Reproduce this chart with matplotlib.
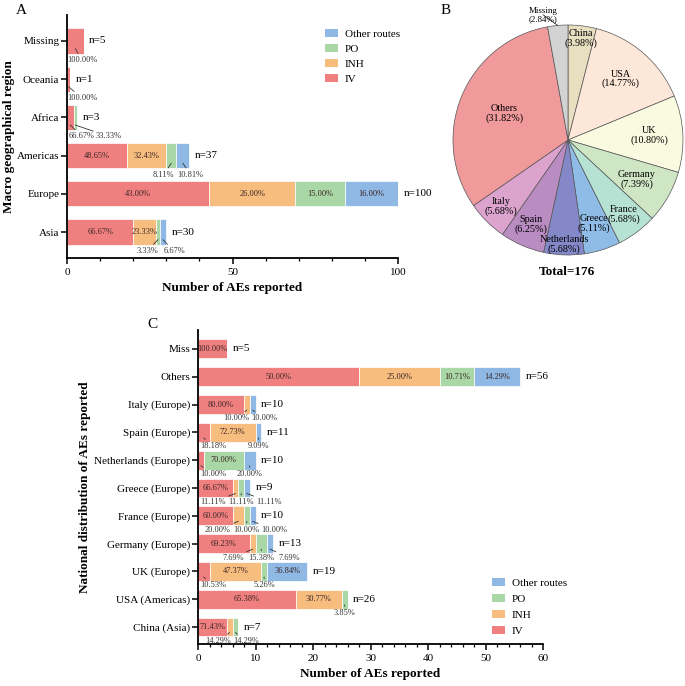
import numpy as np
import matplotlib
matplotlib.use("Agg")
import matplotlib.pyplot as plt
from matplotlib.patches import Patch

plt.rcParams["font.family"] = ["Liberation Serif", "DejaVu Serif"]

# Route order (stacking order, left to right)
routes = ["IV", "INH", "PO", "Other routes"]
route_colors = ["#f08080", "#f7bd7f", "#a9d7a6", "#8fb8e4"]

# Panel A: macro geographical region (bottom to top)
region_names = ["Asia", "Europe", "Americas", "Africa", "Oceania", "Missing"]
region_iv = [20, 43, 18, 2, 1, 5]
region_inh = [7, 26, 12, 0, 0, 0]
region_po = [1, 15, 3, 1, 0, 0]
region_other = [2, 16, 4, 0, 0, 0]

# Panel B: countries pie (clockwise from top)
pie_names = ["China", "USA", "UK", "Germany", "France", "Greece",
             "Netherlands", "Spain", "Italy", "Others", "Missing"]
pie_counts = [7, 26, 19, 13, 10, 9, 10, 11, 10, 56, 5]
pie_colors = ["#e8dfc1", "#fde7d9", "#fafae1", "#cfe6c5", "#b6e2d3", "#8fbce6",
              "#8488c8", "#b98cc2", "#dca3cf", "#f09a9c", "#d3d3d3"]
pie_label_r = [0.89, 0.70, 0.71, 0.69, 0.81, 0.76, 0.91, 0.80, 0.82, 0.60]

# Panel C: national distribution (bottom to top)
country_names = ["China (Asia)", "USA (Americas)", "UK (Europe)", "Germany (Europe)",
                 "France (Europe)", "Greece (Europe)", "Netherlands (Europe)",
                 "Spain (Europe)", "Italy (Europe)", "Others", "Miss"]
country_iv = [5, 17, 2, 9, 6, 6, 1, 2, 8, 28, 5]
country_inh = [1, 8, 9, 1, 2, 1, 0, 8, 1, 14, 0]
country_po = [1, 1, 1, 2, 1, 1, 7, 0, 0, 6, 0]
country_other = [0, 0, 7, 1, 1, 1, 2, 1, 1, 8, 0]


def spread(centers, gap, lo):
    # push outside labels apart so they don't overlap
    p = list(centers)
    for _ in range(300):
        for i in range(len(p) - 1):
            d = p[i + 1] - p[i]
            if d < gap:
                s = (gap - d) / 2
                p[i] -= s
                p[i + 1] += s
    p[0] = max(p[0], lo)
    for i in range(1, len(p)):
        p[i] = max(p[i], p[i - 1] + gap)
    return p


def stacked(ax, names, series, height, gap_px, lo_px):
    y = np.arange(len(names))
    data = np.array(series)
    totals = data.sum(axis=0)
    ppu = ax.transData.transform((1, 0))[0] - ax.transData.transform((0, 0))[0]
    left = np.zeros(len(names))
    for k in range(len(routes)):
        ax.barh(y, data[k], left=left, height=height, color=route_colors[k],
                edgecolor="white", linewidth=0.5, zorder=2)
        left += data[k]
    for j in range(len(names)):
        n = totals[j]
        start = 0
        outside = []
        for k in range(len(routes)):
            v = data[k, j]
            if v > 0:
                c = start + v / 2
                txt = "%.2f%%" % (v / n * 100)
                if v * ppu >= 20:
                    ax.text(c, y[j], txt, ha="center", va="center",
                            fontsize=6, color="#3b2626", zorder=4)
                else:
                    outside.append((c, txt))
            start += v
        if outside:
            xs = spread([o[0] for o in outside], gap_px / ppu, lo_px / ppu)
            for (c, txt), xl in zip(outside, xs):
                ax.annotate(txt, xy=(c, y[j] - 0.2), xytext=(xl, y[j] - 0.5),
                            ha="center", va="center", fontsize=6, color="#333333",
                            annotation_clip=False, zorder=4,
                            arrowprops=dict(arrowstyle="-", color="#333333", lw=0.6,
                                            shrinkA=0, shrinkB=0))
        ax.annotate("n=%d" % n, xy=(n, y[j]), xytext=(4, 0), textcoords="offset points",
                    ha="left", va="center", fontsize=8, annotation_clip=False)
    ax.set_yticks(y)
    ax.set_yticklabels(names, fontsize=8)


def style(ax):
    for s in ["top", "right"]:
        ax.spines[s].set_visible(False)
    for s in ["left", "bottom"]:
        ax.spines[s].set_linewidth(1.3)
    ax.tick_params(axis="both", which="major", length=4, width=1.1, labelsize=8)
    ax.tick_params(axis="y", which="major", pad=1.5)
    ax.tick_params(axis="x", which="minor", length=2.5, width=0.9)


fig = plt.figure(figsize=(6.85, 6.86), dpi=100)

# ---- Panel A
axA = fig.add_axes([67 / 685, 1 - 258 / 686, 331 / 685, 243 / 686])
axA.set_xlim(0, 100)
axA.set_ylim(-0.68, 5.68)
stacked(axA, region_names, [region_iv, region_inh, region_po, region_other], 0.66, 27, 15)
axA.set_xticks([0, 50, 100])
axA.set_xticks(np.arange(0, 101, 10), minor=True)
style(axA)
axA.set_xlabel("Number of AEs reported", fontsize=9.5, fontweight="bold", labelpad=3)
axA.set_ylabel("Macro geographical region", fontsize=9.5, fontweight="bold", labelpad=1)
handles = [Patch(facecolor=route_colors[k], label=routes[k]) for k in range(3, -1, -1)]
axA.legend(handles=handles, loc="upper left", bbox_to_anchor=(325 / 685, 1 - 29 / 686),
           bbox_transform=fig.transFigure, frameon=False, fontsize=8,
           handlelength=1.2, handleheight=0.75, handletextpad=0.6, labelspacing=0.45,
           borderpad=0, borderaxespad=0)
fig.text(16 / 685, 1 - 10 / 686, "A", fontsize=11, va="center", ha="left")

# ---- Panel B
axB = fig.add_axes([453 / 685, 1 - 255 / 686, 230 / 685, 230 / 686])
wedges, _ = axB.pie(pie_counts, colors=pie_colors, startangle=90, counterclock=False,
                    radius=1, wedgeprops=dict(edgecolor="#555555", linewidth=0.5))
total = sum(pie_counts)
for i, w in enumerate(wedges):
    ang = np.deg2rad((w.theta1 + w.theta2) / 2)
    txt = "%s\n(%.2f%%)" % (pie_names[i], pie_counts[i] / total * 100)
    if i < len(pie_label_r):
        r = pie_label_r[i]
        axB.text(r * np.cos(ang), r * np.sin(ang), txt, ha="center", va="center",
                 fontsize=7.3, linespacing=1.0)
    else:
        la = np.deg2rad(101)
        axB.annotate(txt, xy=(np.cos(ang), np.sin(ang)),
                     xytext=(1.14 * np.cos(la), 1.11 * np.sin(la)),
                     ha="center", va="center", fontsize=6.5, linespacing=1.0,
                     annotation_clip=False,
                     arrowprops=dict(arrowstyle="-", color="#333333", lw=0.6,
                                     shrinkA=0, shrinkB=0))
axB.set_xlim(-1, 1)
axB.set_ylim(-1, 1)
axB.set_aspect("equal")
fig.text(567 / 685, 1 - 272 / 686, "Total=176", fontsize=9.5, fontweight="bold",
         ha="center", va="center")
fig.text(441 / 685, 1 - 10 / 686, "B", fontsize=11, va="center", ha="left")

# ---- Panel C
axC = fig.add_axes([198 / 685, 1 - 644 / 686, 345 / 685, 314 / 686])
axC.set_xlim(0, 60)
axC.set_ylim(-0.61, 10.68)
stacked(axC, country_names, [country_iv, country_inh, country_po, country_other], 0.68, 28, 15)
axC.set_xticks(np.arange(0, 61, 10))
axC.set_xticks(np.arange(0, 61, 2), minor=True)
style(axC)
axC.set_xlabel("Number of AEs reported", fontsize=9.5, fontweight="bold", labelpad=3)
axC.set_ylabel("National distribution of AEs reported", fontsize=9.5, fontweight="bold",
               labelpad=2.5)
axC.legend(handles=handles, loc="upper left", bbox_to_anchor=(492 / 685, 1 - 578 / 686),
           bbox_transform=fig.transFigure, frameon=False, fontsize=8,
           handlelength=1.2, handleheight=0.75, handletextpad=0.6, labelspacing=0.55,
           borderpad=0, borderaxespad=0)
fig.text(147 / 685, 1 - 325 / 686, "C", fontsize=11, va="center", ha="left")

fig.savefig("out.png", dpi=100)
